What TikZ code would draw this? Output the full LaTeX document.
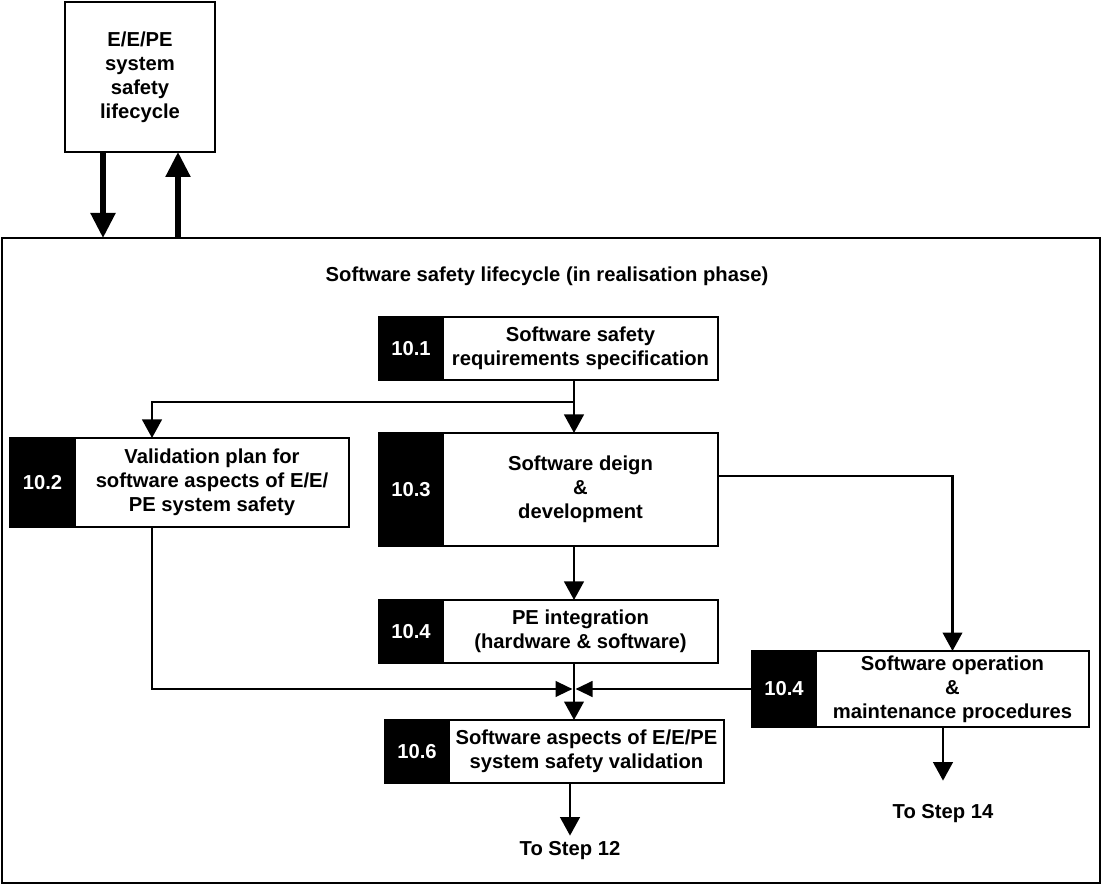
\documentclass[tikz,border=0pt]{standalone}
\usepackage{fontspec}
\setmainfont{Liberation Sans}
\usetikzlibrary{arrows.meta,positioning}
\tikzset{
  wire/.style={black, line width=1.5pt},
  flow/.style={wire, -{Triangle[length=3.7mm,width=3.9mm]}},
  joinflow/.style={wire, -{Triangle[length=3.4mm,width=3.1mm]}},
  bigflow/.style={black, line width=3pt, -{Triangle[length=5mm,width=4.8mm]}},
  stepbox/.style={draw=black, line width=1.5pt, fill=white,
                  minimum width=55mm, inner sep=2pt, outer sep=0pt,
                  align=center, font=\bfseries\fontsize{11.5}{13.6}\selectfont},
  stepnum/.style={draw=black, line width=1.5pt, fill=black, text=white,
                  minimum width=12.8mm, inner sep=0pt, outer sep=0pt,
                  font=\bfseries\fontsize{11.5}{13.6}\selectfont},
  lab/.style={font=\bfseries\fontsize{11.5}{13.6}\selectfont},
}
\begin{document}
\begin{tikzpicture}[x=0.2mm,y=-0.2mm]
  \useasboundingbox (0,0) rectangle (1104,885);

  % system lifecycle and the realisation frame
  \node[stepbox, minimum width=30mm, minimum height=30mm] (eepe) at (140,77)
    {E/E/PE\\system\\safety\\lifecycle};
  \node[draw=black, line width=1.5pt, minimum width=219.6mm,
        minimum height=129mm, outer sep=0pt] (sslc) at (551,560.5) {};
  \node[lab] (title) at (547,276)
    {Software safety lifecycle (in realisation phase)};
  \draw[bigflow] ([xshift=-7.4mm]eepe.south)
    -- ([xshift=-7.4mm]eepe.south |- sslc.north);
  \draw[bigflow] ([xshift=7.6mm]eepe.south |- sslc.north)
    -- ([xshift=7.6mm]eepe.south);

  % steps
  \node[stepbox, minimum height=12.6mm] (s101) at (580.5,348.5)
    {Software safety\\requirements specification};
  \node[stepnum, minimum height=12.6mm, left=0pt of s101] (n101) {10.1};
  \node[stepbox, minimum width=54.8mm, minimum height=17.8mm] (s102) at (212,482.5)
    {Validation plan for\\software aspects of E/E/\\PE system safety};
  \node[stepnum, minimum height=17.8mm, minimum width=13mm, left=0pt of s102] (n102) {10.2};
  \node[stepbox, minimum height=22.6mm] (s103) at (580.5,489.5)
    {Software deign\\\&\\development};
  \node[stepnum, minimum height=22.6mm, left=0pt of s103] (n103) {10.3};
  \node[stepbox, minimum height=12.6mm] (s104) at (580.5,631.5)
    {PE integration\\(hardware \& software)};
  \node[stepnum, minimum height=12.6mm, left=0pt of s104] (n104) {10.4};
  \node[stepbox, minimum width=54.6mm, minimum height=15.2mm] (s105) at (952.5,689)
    {Software operation\\\&\\maintenance procedures};
  \node[stepnum, minimum height=15.2mm, left=0pt of s105] (n105) {10.4};
  \node[stepbox, minimum height=12.6mm] (s106) at (586.5,751.5)
    {Software aspects of E/E/PE\\system safety validation};
  \node[stepnum, minimum height=12.6mm, left=0pt of s106] (n106) {10.6};

  \node[lab] (step12) at (570,851) {To Step 12};
  \node[lab] (step14) at (943,814) {To Step 14};

  % connectors
  \coordinate (jn) at (574,689);
  \draw[flow] (jn |- s101.south) -- (jn |- s103.north);
  \draw[flow] (jn |- s101.south) ++(0,22) -| ([xshift=-12mm]s102.north);
  \draw[flow] (jn |- s103.south) -- (jn |- s104.north);
  \draw[flow] ([yshift=2.7mm]s103.east) -| (s105.north);
  \draw[joinflow] ([xshift=-12mm]s102.south) |- ([xshift=-0.3mm]jn);
  \draw[joinflow] (n105.west) -- ([xshift=0.3mm]jn);
  \draw[flow] (jn |- s104.south) -- (jn |- s106.north);
  \draw[flow] (step12 |- s106.south) -- (step12.north);
  \draw[flow, shorten >=3.6mm] (step14 |- s105.south) -- (step14.north);
\end{tikzpicture}
\end{document}
